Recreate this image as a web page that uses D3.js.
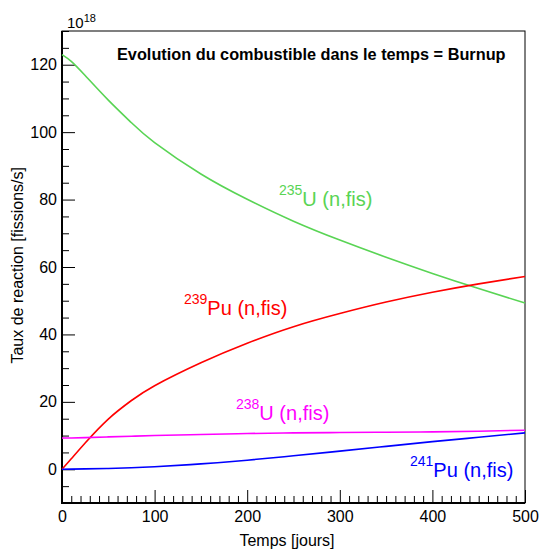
<!DOCTYPE html>
<html>
<head>
<meta charset="utf-8">
<script src="https://cdn.jsdelivr.net/npm/d3@7"></script>
<style>
  html, body { margin: 0; padding: 0; background: #fff; }
  svg { display: block; font-family: "Liberation Sans", Arial, Helvetica, sans-serif; }
</style>
</head>
<body>
<svg id="chart" width="539" height="551"></svg>
<script>
// ---- data ----
const days = [0, 10, 25, 50, 75, 100, 150, 200, 250, 300, 350, 400, 450, 500];
const u235  = [123.0, 121.0, 116.8, 109.5, 102.8, 96.9, 87.6, 80.1, 73.6, 68.0, 62.9, 58.1, 53.6, 49.3];
const pu239 = [0.0, 3.1, 7.8, 14.9, 20.4, 24.8, 31.6, 37.4, 42.3, 46.2, 49.6, 52.5, 55.0, 57.2];
const u238  = [9.3, 9.3, 9.4, 9.6, 9.8, 10.0, 10.3, 10.6, 10.8, 10.9, 11.0, 11.1, 11.3, 11.6];
const pu241 = [0.0, 0.05, 0.12, 0.25, 0.45, 0.75, 1.6, 2.7, 4.0, 5.4, 6.8, 8.2, 9.5, 10.8];

const seriesIso   = ["235", "239", "238", "241"];
const seriesElem  = ["U", "Pu", "U", "Pu"];
const seriesColors = ["#59d454", "#ff0000", "#ff00ff", "#0000ff"];
const seriesValues = [u235, pu239, u238, pu241];

const xTicks = [0, 100, 200, 300, 400, 500];
const yTicks = [0, 20, 40, 60, 80, 100, 120];
const xDomain = [0, 500];
const yDomain = [-10, 130];

const title = "Evolution du combustible dans le temps = Burnup";
const xTitle = "Temps [jours]";
const yTitle = "Taux de reaction [fissions/s]";

// ---- layout ----
const L = 62, R = 525, T = 31, B = 503;
const svg = d3.select("#chart");

const x = d3.scaleLinear().domain(xDomain).range([L, R]);
const y = d3.scaleLinear().domain(yDomain).range([B, T]);

// frame
svg.append("rect").attr("x", L).attr("y", T).attr("width", R - L).attr("height", B - T)
  .attr("fill", "none").attr("stroke", "#000").attr("stroke-width", 1);

// minor ticks
const yMinor = d3.range(-10, 131, 5).filter(v => v % 20 !== 0);
const xMinor = d3.range(0, 501, 10).filter(v => v % 100 !== 0);

svg.append("g").attr("transform", `translate(${L},0)`)
  .call(d3.axisLeft(y).tickValues(yMinor).tickSize(-7).tickFormat(""))
  .call(g => g.select(".domain").remove());
svg.append("g").attr("transform", `translate(0,${B})`)
  .call(d3.axisBottom(x).tickValues(xMinor).tickSize(-7).tickFormat(""))
  .call(g => g.select(".domain").remove());

// major ticks with labels
const yAx = svg.append("g").attr("transform", `translate(${L},0)`)
  .call(d3.axisLeft(y).tickValues(yTicks).tickSize(-13).tickPadding(5).tickFormat(d3.format("d")));
yAx.select(".domain").remove();
yAx.selectAll("text").attr("font-size", 16).attr("fill", "#000")
  .attr("font-family", "'Liberation Sans', Arial, sans-serif");

const xAx = svg.append("g").attr("transform", `translate(0,${B})`)
  .call(d3.axisBottom(x).tickValues(xTicks).tickSize(-13).tickPadding(8).tickFormat(d3.format("d")));
xAx.select(".domain").remove();
xAx.selectAll("text").attr("font-size", 16).attr("fill", "#000")
  .attr("font-family", "'Liberation Sans', Arial, sans-serif");

svg.selectAll(".tick line").attr("stroke", "#000").attr("stroke-width", 1);

// thick left & bottom axis lines
svg.append("line").attr("x1", L).attr("x2", L).attr("y1", T).attr("y2", B + 1)
  .attr("stroke", "#000").attr("stroke-width", 2);
svg.append("line").attr("x1", L - 1).attr("x2", R).attr("y1", B).attr("y2", B)
  .attr("stroke", "#000").attr("stroke-width", 2);

// exponent
const ex = svg.append("text").attr("x", 67).attr("y", 28).attr("font-size", 15).attr("fill", "#000");
ex.append("tspan").text("10");
ex.append("tspan").attr("font-size", 11).attr("dy", -6).text("18");

// curves
const line = d3.line().x(d => x(d[0])).y(d => y(d[1])).curve(d3.curveNatural);
seriesValues.forEach((vals, i) => {
  const pts = days.map((d, j) => [d, vals[j]]);
  svg.append("path").datum(pts).attr("d", line)
    .attr("fill", "none").attr("stroke", seriesColors[i]).attr("stroke-width", 1.6);
});

// series labels
const labelPos = [[279, 206], [184, 315], [236, 420], [410, 477]];
seriesValues.forEach((vals, i) => {
  const t = svg.append("text").attr("x", labelPos[i][0]).attr("y", labelPos[i][1])
    .attr("fill", seriesColors[i]).attr("font-size", 20);
  t.append("tspan").attr("font-size", 14).attr("dy", -11).text(seriesIso[i]);
  t.append("tspan").attr("dy", 11).text(seriesElem[i] + " (n,fis)");
});

// title
svg.append("text").attr("x", 117).attr("y", 60).attr("font-size", 16.3).attr("font-weight", "bold")
  .attr("fill", "#000").text(title);

// axis titles
svg.append("text").attr("x", 287).attr("y", 546).attr("text-anchor", "middle")
  .attr("font-size", 16).attr("fill", "#000").text(xTitle);
svg.append("text").attr("transform", "translate(23,167) rotate(-90)").attr("text-anchor", "end")
  .attr("font-size", 16).attr("fill", "#000").text(yTitle);
</script>
</body>
</html>
